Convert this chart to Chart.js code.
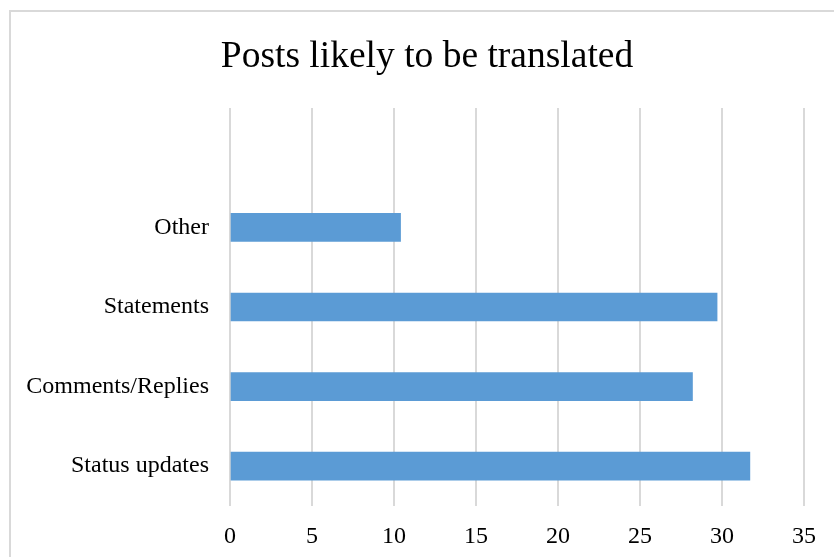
<!DOCTYPE html>
<html>
<head>
<meta charset="utf-8">
<script src="https://cdn.jsdelivr.net/npm/chart.js@4"></script>
<style>
    html, body { margin: 0; padding: 0; background: #fff; overflow: hidden; width: 834px; height: 557px; }
    .frame { position: absolute; left: 9px; top: 10px; width: 900px; height: 600px; border: 2px solid #d9d9d9; }
    .wrap { position: absolute; left: 10px; top: 0; width: 834px; height: 557px; }
</style>
</head>
<body>
<div class="frame"></div>
<div class="wrap"><canvas id="grafico" width="834" height="557"></canvas></div>
<script>
// categorias de cima para baixo (a primeira fica vazia, como no original)
const categorias = ['', 'Other', 'Statements', 'Comments/Replies', 'Status updates'];
const valores = [null, 10.4, 29.7, 28.2, 31.7];
const ticksX = [0, 5, 10, 15, 20, 25, 30, 35];

// desloca o título para ficar centrado na moldura
const moverTitulo = {
    id: 'moverTitulo',
    afterLayout: function (chart) {
        if (chart.titleBlock) {
            chart.titleBlock.left = 40;
        }
    }
};

document.addEventListener('DOMContentLoaded', function () {
    const ctx = document.getElementById('grafico').getContext('2d');

    Chart.defaults.font.family = '"Liberation Serif", "Times New Roman", serif';
    Chart.defaults.color = '#000';

    new Chart(ctx, {
        type: 'bar',
        data: {
            labels: categorias,
            datasets: [{
                label: 'Posts',
                data: valores,
                backgroundColor: '#5b9bd5',
                barThickness: 28
            }]
        },
        options: {
            indexAxis: 'y',
            responsive: false,
            animation: false,
            layout: {
                padding: { top: 35, right: 40, bottom: 0, left: 0 }
            },
            scales: {
                x: {
                    min: ticksX[0],
                    max: ticksX[ticksX.length - 1],
                    afterBuildTicks: function (axis) {
                        axis.ticks = ticksX.map(v => ({ value: v }));
                    },
                    afterFit: function (scale) {
                        scale.height = 51;
                    },
                    grid: {
                        color: '#d9d9d9',
                        lineWidth: 2,
                        drawTicks: false
                    },
                    border: { display: false },
                    ticks: {
                        padding: 16,
                        font: { size: 24 }
                    }
                },
                y: {
                    afterFit: function (scale) {
                        scale.width = 220;
                    },
                    grid: { display: false, drawTicks: false },
                    border: { display: false },
                    ticks: {
                        padding: 21,
                        font: { size: 24 }
                    }
                }
            },
            plugins: {
                legend: { display: false },
                tooltip: { enabled: false },
                title: {
                    display: true,
                    text: 'Posts likely to be translated',
                    color: '#000',
                    font: { size: 37.5, weight: 'normal' },
                    padding: { top: 0, bottom: 28 }
                }
            }
        },
        plugins: [moverTitulo]
    });
});
</script>
</body>
</html>
